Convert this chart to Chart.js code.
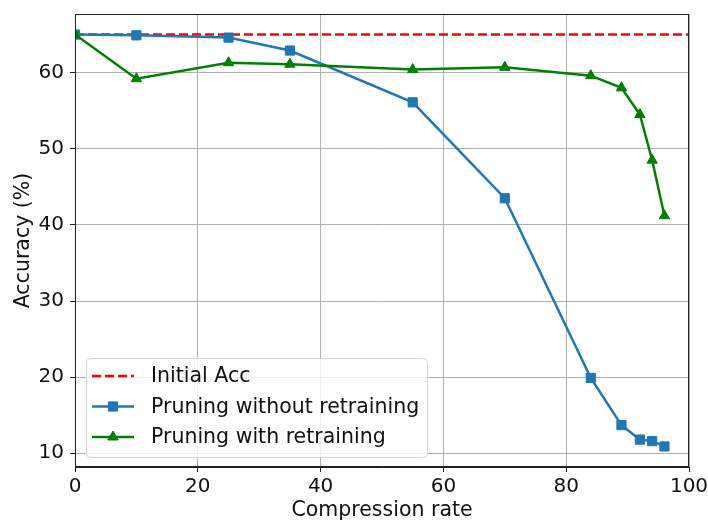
<!DOCTYPE html>
<html lang="en">
<head>
    <meta charset="UTF-8">
    <title>Accuracy vs compression rate</title>
    <script src="https://cdn.jsdelivr.net/npm/chart.js"></script>
    <style>
        html, body { margin: 0; padding: 0; background: #fff; }
        #wrap { width: 708px; height: 523px; }
    </style>
</head>
<body>
    <div id="wrap"><canvas id="accChart" width="708" height="523"></canvas></div>
    <script>
        // data
        const compressionRate = [0, 10, 25, 35, 55, 70, 84, 89, 92, 94, 96];
        const accNoRetrain = [65.0, 64.9, 64.6, 62.9, 56.1, 43.5, 19.9, 13.7, 11.8, 11.6, 10.9];
        const accRetrain = [65.0, 59.2, 61.3, 61.1, 60.4, 60.7, 59.6, 58.0, 54.5, 48.5, 41.2];
        const initialAcc = 65.0;
        const initialAccX = [0, 100];
        const yTicks = [10, 20, 30, 40, 50, 60];

        const FONT = 'DejaVu Sans';
        const TEXT = '#111';

        function toPoints(xs, ys) {
            return xs.map((x, i) => ({ x: x, y: ys[i] }));
        }

        // frame round the plot, like matplotlib spines
        const framePlugin = {
            id: 'frame',
            afterDatasetsDraw(chart) {
                const { ctx, chartArea: a } = chart;
                ctx.save();
                ctx.strokeStyle = '#222';
                ctx.lineWidth = 1;
                ctx.strokeRect(a.left + 0.5, a.top + 0.5, a.right - a.left - 1, a.bottom - a.top - 1);
                ctx.restore();
            }
        };

        // legend box in the lower left of the plot
        const boxLegend = {
            id: 'boxLegend',
            afterDraw(chart) {
                const { ctx, chartArea: a } = chart;
                const x0 = a.left + 11, y0 = a.bottom - 109, w = 341, h = 99;
                ctx.save();
                ctx.beginPath();
                ctx.roundRect(x0 + 0.5, y0 + 0.5, w, h, 4);
                ctx.fillStyle = 'rgba(255,255,255,0.8)';
                ctx.fill();
                ctx.strokeStyle = '#d6d6d6';
                ctx.lineWidth = 1;
                ctx.stroke();

                chart.data.datasets.forEach((ds, i) => {
                    const cy = y0 + 18 + i * 30.5;
                    const lx = x0 + 6, lw = 42;
                    ctx.beginPath();
                    ctx.setLineDash(ds.borderDash || []);
                    ctx.strokeStyle = ds.borderColor;
                    ctx.lineWidth = ds.borderWidth;
                    ctx.moveTo(lx, cy);
                    ctx.lineTo(lx + lw, cy);
                    ctx.stroke();
                    ctx.setLineDash([]);
                    if (ds.pointRadius > 0) {
                        ctx.fillStyle = ds.pointBackgroundColor;
                        ctx.strokeStyle = ds.pointBackgroundColor;
                        ctx.lineWidth = 1;
                        Chart.helpers.drawPoint(ctx, {
                            pointStyle: ds.pointStyle,
                            radius: ds.pointRadius,
                            borderWidth: 1
                        }, lx + lw / 2, cy);
                    }
                    ctx.fillStyle = TEXT;
                    ctx.font = '20.5px "' + FONT + '"';
                    ctx.textBaseline = 'middle';
                    ctx.textAlign = 'left';
                    ctx.fillText(ds.label, x0 + 65, cy + 1);
                });
                ctx.restore();
            }
        };

        const ctx = document.getElementById('accChart').getContext('2d');
        new Chart(ctx, {
            type: 'line',
            data: {
                datasets: [
                    {
                        label: 'Initial Acc',
                        data: toPoints(initialAccX, initialAccX.map(() => initialAcc)),
                        borderColor: '#ff0000',
                        borderWidth: 2.5,
                        borderDash: [9, 4],
                        pointRadius: 0,
                        order: 3
                    },
                    {
                        label: 'Pruning without retraining',
                        data: toPoints(compressionRate, accNoRetrain),
                        borderColor: '#1f77b4',
                        backgroundColor: '#1f77b4',
                        pointBackgroundColor: '#1f77b4',
                        pointBorderColor: '#1f77b4',
                        borderWidth: 2.5,
                        pointStyle: 'rect',
                        pointRadius: 6.5,
                        pointBorderWidth: 1,
                        order: 2
                    },
                    {
                        label: 'Pruning with retraining',
                        data: toPoints(compressionRate, accRetrain),
                        borderColor: '#008000',
                        backgroundColor: '#008000',
                        pointBackgroundColor: '#008000',
                        pointBorderColor: '#008000',
                        borderWidth: 2.5,
                        pointStyle: 'triangle',
                        pointRadius: 6,
                        pointBorderWidth: 1,
                        order: 1
                    }
                ]
            },
            options: {
                responsive: false,
                animation: false,
                clip: 0,
                layout: { padding: { top: 14, right: 19, bottom: 0, left: 0 } },
                plugins: {
                    legend: { display: false },
                    tooltip: { enabled: false }
                },
                elements: { line: { tension: 0, fill: false } },
                scales: {
                    x: {
                        type: 'linear',
                        min: 0,
                        max: 100,
                        afterFit(scale) {
                            scale.height = 56;
                            scale.paddingLeft = 0;
                            scale.paddingRight = 0;
                        },
                        ticks: {
                            stepSize: 20,
                            color: TEXT,
                            padding: 3,
                            font: { family: FONT, size: 20 }
                        },
                        grid: { color: '#b0b0b0', lineWidth: 1, tickLength: 5, tickColor: '#222' },
                        border: { color: '#222' },
                        title: {
                            display: true,
                            text: 'Compression rate',
                            color: TEXT,
                            font: { family: FONT, size: 20.5 },
                            padding: { top: 0, bottom: 0 }
                        }
                    },
                    y: {
                        type: 'linear',
                        min: 8.2,
                        max: 67.7,
                        afterFit(scale) {
                            scale.width = 75;
                            scale.paddingTop = 0;
                            scale.paddingBottom = 0;
                        },
                        afterBuildTicks(scale) {
                            scale.ticks = yTicks.map(v => ({ value: v }));
                        },
                        ticks: {
                            color: TEXT,
                            padding: 6,
                            font: { family: FONT, size: 20 }
                        },
                        grid: { color: '#b0b0b0', lineWidth: 1, tickLength: 5, tickColor: '#222' },
                        border: { color: '#222' },
                        title: {
                            display: true,
                            text: 'Accuracy (%)',
                            color: TEXT,
                            font: { family: FONT, size: 20.5 },
                            padding: { top: 11, bottom: 0 }
                        }
                    }
                }
            },
            plugins: [framePlugin, boxLegend]
        });
    </script>
</body>
</html>
